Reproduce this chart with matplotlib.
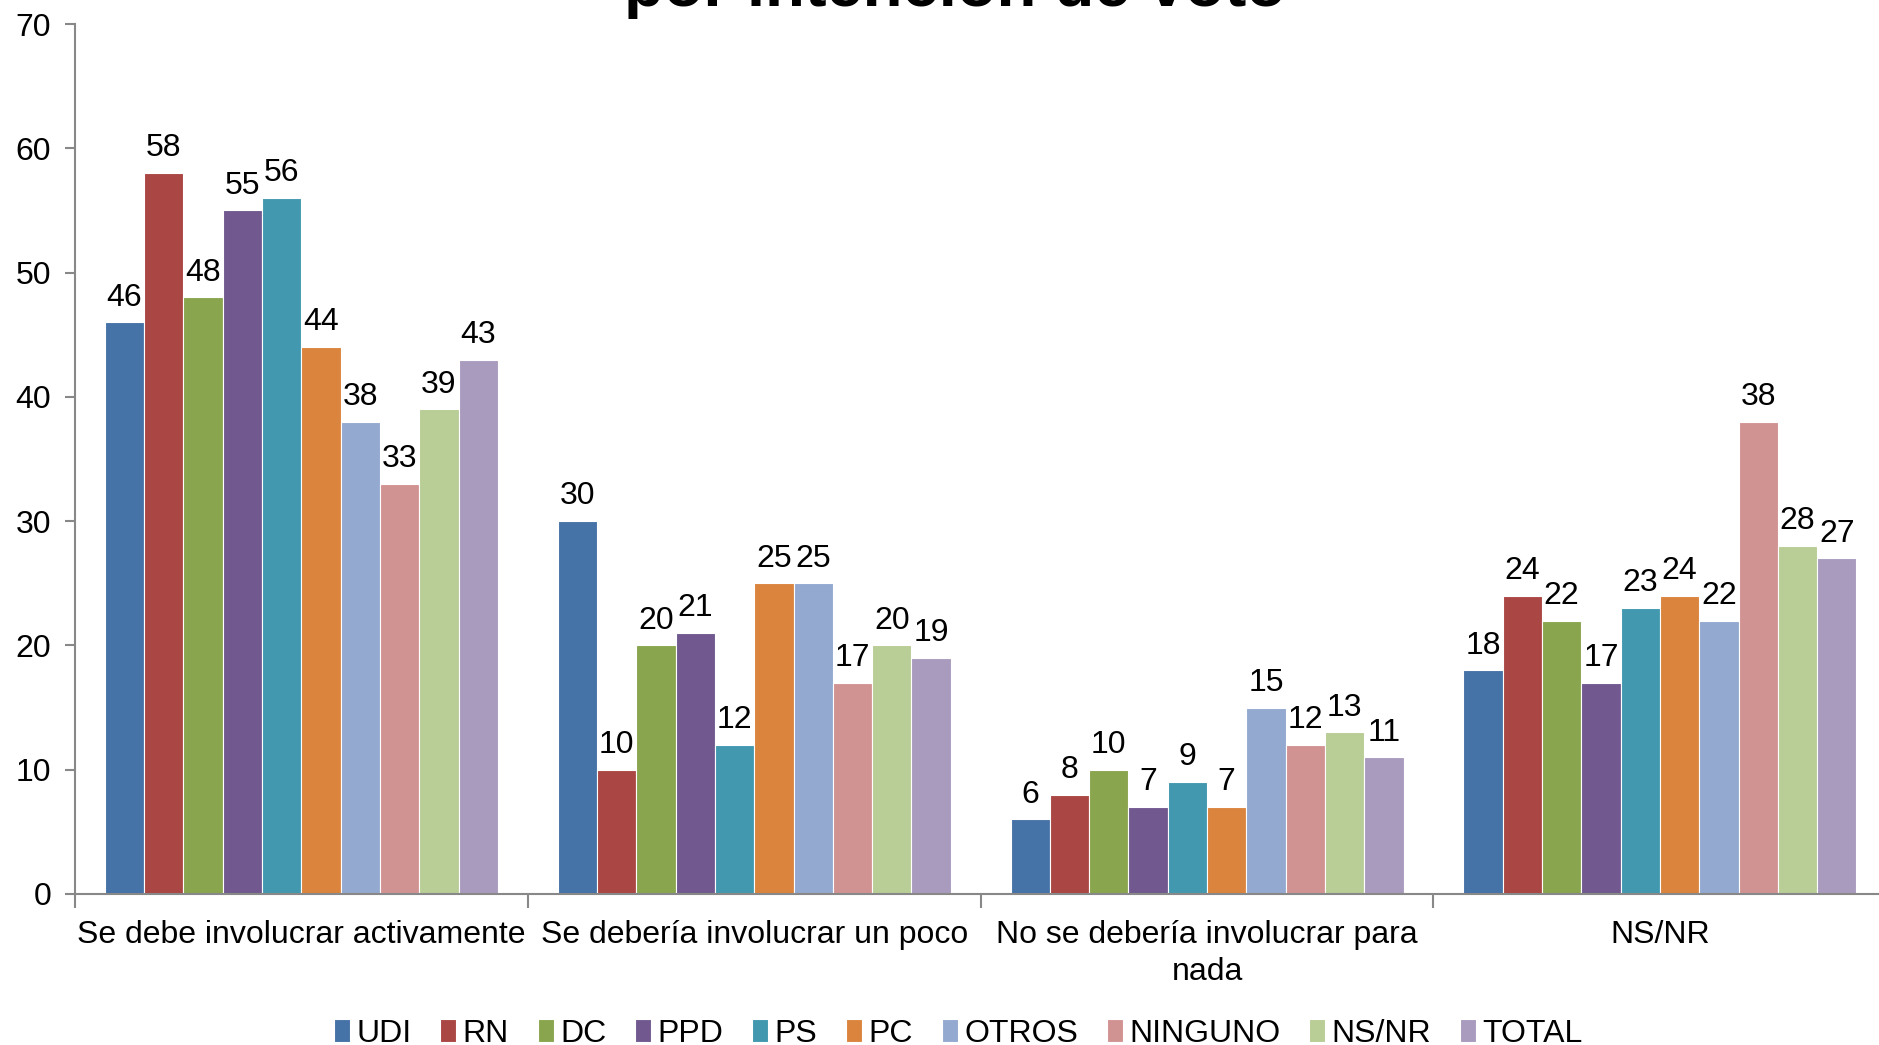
import matplotlib.pyplot as plt
import numpy as np

categories = ['Se debe involucrar activamente', 'Se debería involucrar un poco',
              'No se debería involucrar para\nnada', 'NS/NR']
series = ['UDI', 'RN', 'DC', 'PPD', 'PS', 'PC', 'OTROS', 'NINGUNO', 'NS/NR', 'TOTAL']
values = {
    'UDI':     [46, 30, 6, 18],
    'RN':      [58, 10, 8, 24],
    'DC':      [48, 20, 10, 22],
    'PPD':     [55, 21, 7, 17],
    'PS':      [56, 12, 9, 23],
    'PC':      [44, 25, 7, 24],
    'OTROS':   [38, 25, 15, 22],
    'NINGUNO': [33, 17, 12, 38],
    'NS/NR':   [39, 20, 13, 28],
    'TOTAL':   [43, 19, 11, 27],
}
colors = ['#4572A7', '#AA4643', '#89A54E', '#71588F', '#4198AF',
          '#DB843D', '#93A9CF', '#D19392', '#B9CD96', '#A99BBD']

plt.rcParams['font.family'] = ['Liberation Sans', 'DejaVu Sans']
fs = 23

fig = plt.figure(figsize=(18.79, 10.45), dpi=100)
ax = fig.add_axes([0.0399, 0.1445, 0.964, 0.8325])

x = np.arange(len(categories))
n = len(series)
w = 0.868 / n
for i, (s, c) in enumerate(zip(series, colors)):
    pos = x - 0.434 + w * (i + 0.5)
    bars = ax.bar(pos, values[s], width=w, color=c, edgecolor='white', linewidth=0.8, label=s)
    for b, v in zip(bars, values[s]):
        ax.annotate(str(v), (b.get_x() + b.get_width() / 2, v), xytext=(0, 7),
                    textcoords='offset points', ha='center', va='bottom', fontsize=fs)

ax.set_xlim(-0.5, len(categories) - 0.5)
ax.set_ylim(0, 70)
ax.set_yticks(range(0, 71, 10))
ax.tick_params(axis='y', labelsize=fs, color='#888888', length=7, width=1.5, pad=10)

ax.set_xticks(np.arange(-0.5, len(categories), 1.0))
ax.set_xticklabels([])
ax.tick_params(axis='x', which='major', color='#888888', length=10, width=1.5)
ax.set_xticks(x, minor=True)
ax.set_xticklabels(categories, minor=True, fontsize=fs, linespacing=1.3)
ax.tick_params(axis='x', which='minor', length=0, pad=19)

for sp in ['top', 'right']:
    ax.spines[sp].set_visible(False)
for sp in ['left', 'bottom']:
    ax.spines[sp].set_color('#888888')
    ax.spines[sp].set_linewidth(1.5)

fig.text(0.508, 0.994, 'por intención de voto', ha='center', va='baseline',
         fontsize=47, fontweight='bold')

fig.legend(loc='center', bbox_to_anchor=(0.51, 0.011), ncol=n, frameon=False,
           fontsize=fs, handlelength=0.5, handleheight=0.75, handletextpad=0.2,
           columnspacing=0.9)

fig.savefig('out.png', dpi=100)
